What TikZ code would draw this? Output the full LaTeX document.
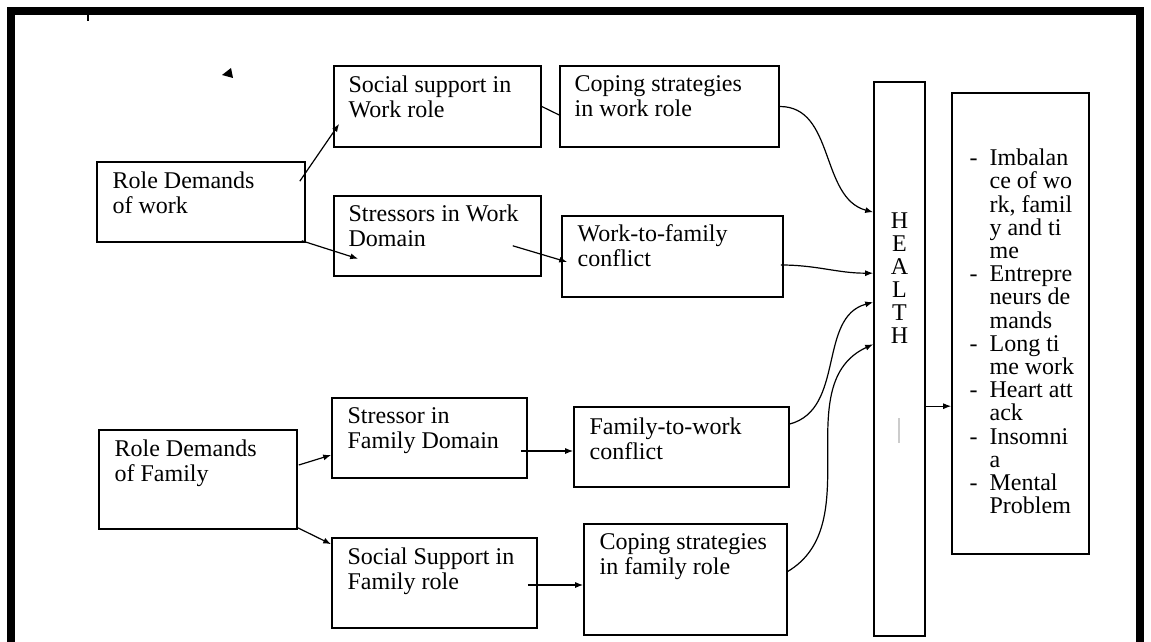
\documentclass[tikz,border=0pt]{standalone}
\usepackage{fontspec}
\setmainfont{Liberation Serif}
\usetikzlibrary{arrows.meta}
\begin{document}
\begin{tikzpicture}[x=0.5pt, y=-0.5pt,
  box/.style={shape=rectangle, draw=black, line width=0.8pt, inner sep=0pt},
  txt/.style={anchor=north west, inner sep=0pt, align=left, font=\fontsize{12}{12.5}\selectfont},
  conn/.style={-{Latex[length=4pt,width=3pt]}, line width=0.6pt, draw=black}]
\useasboundingbox (0,0) rectangle (1151,642);
\draw[line width=4pt] (11,642) -- (11,11) -- (1140,11) -- (1140,642);
\draw[line width=0.6pt] (88,15) -- (88,21);
\fill (222,75) -- (231,68) -- (233,78) -- cycle;
\node[box, minimum width=104pt, minimum height=40pt] (rdw) at (201,202) {};
\node[box, minimum width=103.5pt, minimum height=40.5pt] (ssw) at (437.5,106.5) {};
\node[box, minimum width=109.5pt, minimum height=40.5pt] (cw) at (669.5,106.5) {};
\node[box, minimum width=103.5pt, minimum height=40pt] (swd) at (437.5,236) {};
\node[box, minimum width=110.5pt, minimum height=40.5pt] (wfc) at (672.5,256.5) {};
\node[box, minimum width=25.5pt, minimum height=277pt] (health) at (899.5,359) {};
\node[box, minimum width=68.5pt, minimum height=230.5pt] (out) at (1020.5,323.5) {};
\node[box, minimum width=99pt, minimum height=49.5pt] (rdf) at (198,479.5) {};
\node[box, minimum width=97.5pt, minimum height=40pt] (sfd) at (429.5,438) {};
\node[box, minimum width=107.5pt, minimum height=40pt] (ftw) at (681.5,447) {};
\node[box, minimum width=102.5pt, minimum height=45pt] (ssf) at (434.5,583) {};
\node[box, minimum width=101.5pt, minimum height=55.5pt] (cf) at (685.5,579.5) {};
\node[txt] (rdwtxt) at ([shift={(16,10)}]rdw.north west) {Role Demands\\of work};
\node[txt] (sswtxt) at ([shift={(15,10)}]ssw.north west) {Social support in\\Work role};
\node[txt] (cwtxt) at ([shift={(15,10)}]cw.north west) {Coping strategies\\in work role};
\node[txt] (swdtxt) at ([shift={(15,9)}]swd.north west) {Stressors in Work\\Domain};
\node[txt] (wfctxt) at ([shift={(16,9)}]wfc.north west) {Work-to-family\\conflict};
\node[txt] (rdftxt) at ([shift={(16,10)}]rdf.north west) {Role Demands\\of Family};
\node[txt] (sfdtxt) at ([shift={(16,10)}]sfd.north west) {Stressor in\\Family Domain};
\node[txt] (ftwtxt) at ([shift={(16,11)}]ftw.north west) {Family-to-work\\conflict};
\node[txt] (ssftxt) at ([shift={(16,10)}]ssf.north west) {Social Support in\\Family role};
\node[txt] (cftxt) at ([shift={(16,10)}]cf.north west) {Coping strategies\\in family role};
\node[txt, anchor=north, align=center, font=\fontsize{12}{11.5}\selectfont] (healthtxt) at ([shift={(0,131)}]health.north) {H\\E\\A\\L\\T\\H};
\node[txt, font=\fontsize{12}{11.6}\selectfont] (outtxt) at ([shift={(18,56.5)}]out.north west) {\makebox[10pt][l]{-}Imbalan\\\makebox[10pt]{}ce of wo\\\makebox[10pt]{}rk, famil\\\makebox[10pt]{}y and ti\\\makebox[10pt]{}me\\\makebox[10pt][l]{-}Entrepre\\\makebox[10pt]{}neurs de\\\makebox[10pt]{}mands\\\makebox[10pt][l]{-}Long ti\\\makebox[10pt]{}me work\\\makebox[10pt][l]{-}Heart att\\\makebox[10pt]{}ack\\\makebox[10pt][l]{-}Insomni\\\makebox[10pt]{}a\\\makebox[10pt][l]{-}Mental\\\makebox[10pt]{}Problem};
\draw[gray!40, line width=0.8pt] (899,418) -- (899,443);
\path ([shift={(-6,20)}]rdw.north east) edge[conn] ([shift={(6,-24)}]ssw.south west);
\path ([shift={(-4,-2)}]rdw.south east) edge[conn] ([shift={(25,-18)}]swd.south west);
\path (ssw.east) edge[line width=0.6pt, draw=black] ([shift={(0,8.5)}]cw.west);
\path ([shift={(-29,-31)}]swd.south east) edge[conn] ([shift={(6,5.5)}]wfc.west);
\path (cw.east) edge[conn, out=0, in=165] ([shift={(0,131)}]health.north west);
\path ([shift={(-3,8.5)}]wfc.east) edge[conn, out=0, in=180] ([shift={(0,192)}]health.north west);
\path ([shift={(0,-23)}]ftw.east) edge[conn, out=15, in=195] ([shift={(0,221)}]health.north west);
\path ([shift={(-1,-7.5)}]cf.east) edge[conn, out=30, in=205] ([shift={(0,263)}]health.north west);
\path ([shift={(-7,13)}]sfd.east) edge[conn] ([shift={(0,4)}]ftw.west);
\path ([shift={(1,-14.5)}]rdf.east) edge[conn] ([shift={(0,17)}]sfd.west);
\path ([shift={(0,-2)}]rdf.south east) edge[conn] ([shift={(0,7)}]ssf.north west);
\path ([shift={(-10,2)}]ssf.east) edge[conn] ([shift={(0,5.5)}]cf.west);
\path ([shift={(0,325)}]health.north east) edge[conn] ([shift={(0,314)}]out.north west);
\end{tikzpicture}
\end{document}
